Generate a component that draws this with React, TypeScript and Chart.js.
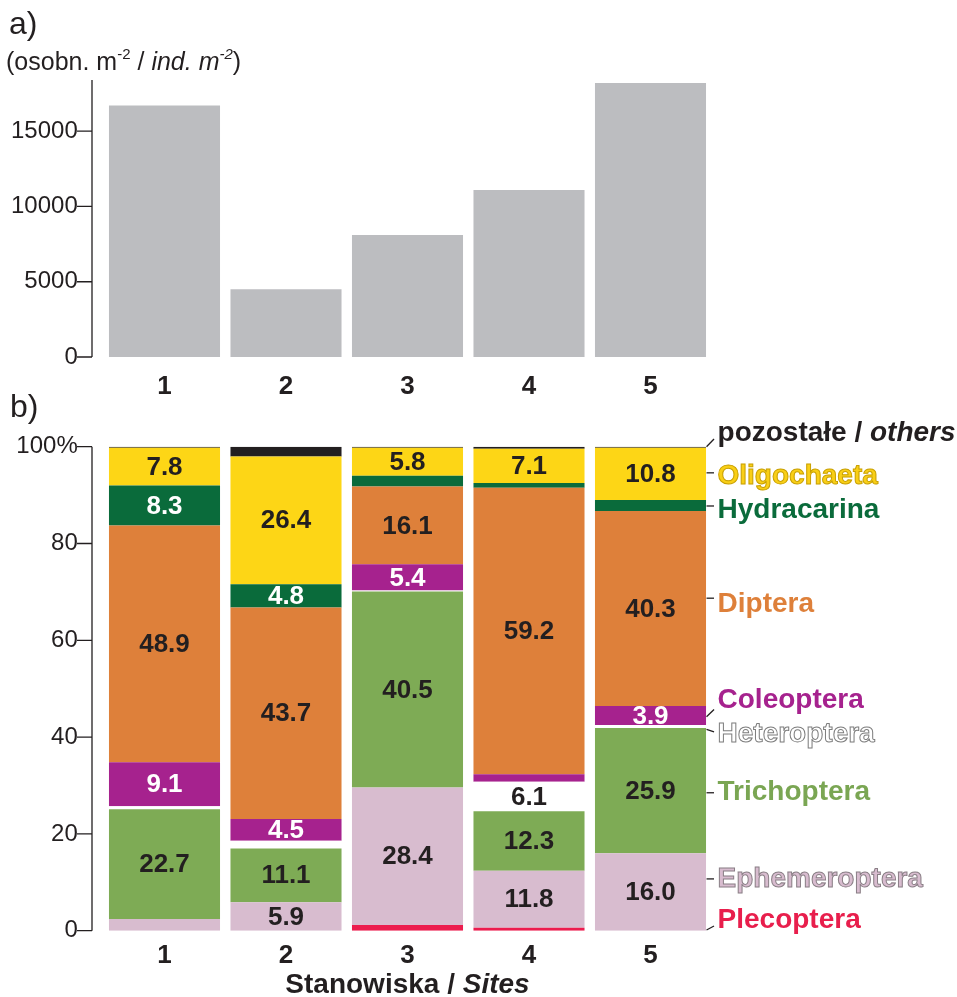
import React, { useEffect, useRef } from 'react';
import { Chart, registerables } from 'chart.js';

Chart.register(...registerables);

const FONT = '"Liberation Sans", Arial, Helvetica, sans-serif';
Chart.defaults.font.family = FONT;

// ---------- data ----------
const SITES = ['1', '2', '3', '4', '5'];
const DENSITY = [16700, 4500, 8100, 11100, 18200];
const DENSITY_TICKS = [0, 5000, 10000, 15000];
const PERCENT_TICKS = [0, 20, 40, 60, 80, 100];

const TAXA = [
  'Plecoptera',
  'Ephemeroptera',
  'Trichoptera',
  'Heteroptera',
  'Coleoptera',
  'Diptera',
  'Hydracarina',
  'Oligochaeta',
  'pozostałe / others',
];
const PLECOPTERA = [0, 0, 1.2, 0.6, 0];
const EPHEMEROPTERA = [2.4, 5.9, 28.4, 11.8, 16.0];
const TRICHOPTERA = [22.7, 11.1, 40.5, 12.3, 25.9];
const HETEROPTERA = [0.6, 1.6, 0.2, 6.1, 0.6];
const COLEOPTERA = [9.1, 4.5, 5.4, 1.5, 3.9];
const DIPTERA = [48.9, 43.7, 16.1, 59.2, 40.3];
const HYDRACARINA = [8.3, 4.8, 2.2, 1.0, 2.3];
const OLIGOCHAETA = [7.8, 26.4, 5.8, 7.1, 10.8];
const OTHERS = [0.2, 2.0, 0.2, 0.4, 0.2];
const SERIES = [PLECOPTERA, EPHEMEROPTERA, TRICHOPTERA, HETEROPTERA, COLEOPTERA, DIPTERA, HYDRACARINA, OLIGOCHAETA, OTHERS];

// ---------- styles ----------
const GREY = '#bcbdc0';
const DARK = '#231f20';
const FILLS = ['#ec1c4e', '#d8bccf', '#7eab55', '#ffffff', '#a6228e', '#de803a', '#0a6b3b', '#fdd616', '#231f20'];
const VALUE_TEXT = [DARK, DARK, DARK, DARK, '#ffffff', DARK, '#ffffff', DARK, DARK];
const NAME_FILL = ['#e81e4c', '#d8bccf', '#7aa653', '#ffffff', '#a6228e', '#de803a', '#0a6b3b', '#f9cf16', DARK];
const NAME_STROKE = [null, '#8a7f86', null, '#7d7d7d', null, null, null, '#c9a000', null];
// right-hand name layout, in % units of the y scale: [text baseline, leader start, leader end]
const NAME_LAYOUT = [
  [0.5, 0.15, 0.97],
  [9.1, 10.7, 10.7],
  [27.0, 28.5, 28.5],
  [39.05, 41.6, 41.1],
  [45.95, 44.2, 45.7],
  [65.9, 68.7, 68.7],
  [85.2, 87.75, 87.75],
  [92.3, 94.6, 94.6],
  [101.2, 100.0, 101.6],
];
const LABEL_MIN = 3.5;

// ---------- plugins ----------
const axisLine = {
  id: 'axisLine',
  afterDraw(chart: any, _args: any, opts: any) {
    const y = chart.scales.y;
    const ctx = chart.ctx;
    const x0 = chart.chartArea.left - opts.gap;
    ctx.save();
    ctx.strokeStyle = DARK;
    ctx.lineWidth = 1.3;
    ctx.beginPath();
    ctx.moveTo(x0, y.getPixelForValue(y.max));
    ctx.lineTo(x0, y.getPixelForValue(y.min));
    y.ticks.forEach((t: any) => {
      const py = y.getPixelForValue(t.value);
      ctx.moveTo(x0 - opts.len, py);
      ctx.lineTo(x0, py);
    });
    ctx.stroke();
    ctx.restore();
  },
};

const valueLabels = {
  id: 'valueLabels',
  afterDatasetsDraw(chart: any) {
    const ctx = chart.ctx;
    ctx.save();
    ctx.font = `bold 26px ${FONT}`;
    ctx.textAlign = 'center';
    ctx.textBaseline = 'middle';
    chart.data.datasets.forEach((ds: any, i: number) => {
      const meta = chart.getDatasetMeta(i);
      meta.data.forEach((el: any, j: number) => {
        const v = ds.data[j];
        if (v < LABEL_MIN) return;
        const { x, y, base } = el.getProps(['x', 'y', 'base'], true);
        ctx.fillStyle = VALUE_TEXT[i];
        ctx.fillText(v.toFixed(1), x, (y + base) / 2 + 1);
      });
    });
    ctx.restore();
  },
};

const seriesNames = {
  id: 'seriesNames',
  afterDraw(chart: any) {
    const ctx = chart.ctx;
    const ys = chart.scales.y;
    const meta = chart.getDatasetMeta(0);
    const el = meta.data[meta.data.length - 1];
    const { x, width } = el.getProps(['x', 'width'], true);
    const x1 = x + width / 2 + 0.5;
    const x2 = x1 + 7.5;
    const tx = x1 + 11;
    ctx.save();
    TAXA.forEach((name, i) => {
      const [tb, l1, l2] = NAME_LAYOUT[i];
      ctx.strokeStyle = DARK;
      ctx.lineWidth = 1.3;
      ctx.beginPath();
      ctx.moveTo(x1, ys.getPixelForValue(l1));
      ctx.lineTo(x2, ys.getPixelForValue(l2));
      ctx.stroke();
      const by = ys.getPixelForValue(tb);
      ctx.textBaseline = 'alphabetic';
      ctx.textAlign = 'left';
      const parts = name.includes(' / ') ? [name.split(' / ')[0] + ' / ', name.split(' / ')[1]] : [name];
      let cx = tx;
      parts.forEach((p, k) => {
        ctx.font = `${k === 1 ? 'italic ' : ''}bold 28px ${FONT}`;
        ctx.fillStyle = NAME_FILL[i];
        ctx.fillText(p, cx, by);
        const st = NAME_STROKE[i];
        if (st) {
          ctx.strokeStyle = st;
          ctx.lineWidth = 1;
          ctx.strokeText(p, cx, by);
        }
        cx += ctx.measureText(p).width;
      });
    });
    ctx.restore();
  },
};

const W = 957;
const PLOT_LEFT = 103.75;
const PLOT_RIGHT = 711.25;

function DensityChart() {
  const ref = useRef<HTMLCanvasElement>(null);
  useEffect(() => {
    const chart = new Chart(ref.current!, {
      type: 'bar',
      data: {
        labels: SITES,
        datasets: [
          {
            data: DENSITY,
            backgroundColor: GREY,
            borderWidth: 0,
            barPercentage: 0.914,
            categoryPercentage: 1,
          },
        ],
      },
      options: {
        responsive: false,
        animation: false,
        layout: { padding: { left: 0, right: W - PLOT_RIGHT, top: 80, bottom: 0 } },
        plugins: {
          legend: { display: false },
          tooltip: { enabled: false },
          axisLine: { gap: 11.75, len: 15 },
        } as any,
        scales: {
          x: {
            grid: { display: false },
            border: { display: false },
            ticks: { color: DARK, font: { size: 26, weight: 'bold' }, padding: 6 },
            afterFit: (s: any) => {
              s.height = 43;
            },
          },
          y: {
            min: 0,
            max: 18400,
            grid: { display: false },
            border: { display: false },
            afterBuildTicks: (s: any) => {
              s.ticks = DENSITY_TICKS.map((v) => ({ value: v }));
            },
            ticks: { color: DARK, font: { size: 24 }, padding: 18, callback: (v: any) => String(v) },
            afterFit: (s: any) => {
              s.width = PLOT_LEFT;
            },
          },
        },
      },
      plugins: [axisLine],
    });
    return () => chart.destroy();
  }, []);
  return (
    <canvas
      ref={ref}
      width={W}
      height={400}
      style={{ position: 'absolute', left: 0, top: 0, display: 'block' }}
    />
  );
}

function CompositionChart() {
  const ref = useRef<HTMLCanvasElement>(null);
  useEffect(() => {
    const chart = new Chart(ref.current!, {
      type: 'bar',
      data: {
        labels: SITES,
        datasets: TAXA.map((name, i) => ({
          label: name,
          data: SERIES[i],
          backgroundColor: FILLS[i],
          borderWidth: 0,
          barPercentage: 0.914,
          categoryPercentage: 1,
        })),
      },
      options: {
        responsive: false,
        animation: false,
        layout: { padding: { left: 0, right: W - PLOT_RIGHT, top: 46.7, bottom: 0 } },
        plugins: {
          legend: { display: false },
          tooltip: { enabled: false },
          axisLine: { gap: 11.75, len: 15 },
        } as any,
        scales: {
          x: {
            stacked: true,
            grid: { display: false },
            border: { display: false },
            ticks: { color: DARK, font: { size: 26, weight: 'bold' }, padding: 2 },
            afterFit: (s: any) => {
              s.height = 66.3;
            },
          },
          y: {
            stacked: true,
            min: 0,
            max: 100,
            grid: { display: false },
            border: { display: false },
            afterBuildTicks: (s: any) => {
              s.ticks = PERCENT_TICKS.map((v) => ({ value: v }));
            },
            ticks: {
              color: DARK,
              font: { size: 24 },
              padding: 18,
              callback: (v: any) => (v === 100 ? '100%' : String(v)),
            },
            afterFit: (s: any) => {
              s.width = PLOT_LEFT;
            },
          },
        },
      },
      plugins: [axisLine, valueLabels, seriesNames],
    });
    return () => chart.destroy();
  }, []);
  return (
    <canvas
      ref={ref}
      width={W}
      height={597}
      style={{ position: 'absolute', left: 0, top: 400, display: 'block' }}
    />
  );
}

export default function App() {
  const txt: React.CSSProperties = {
    position: 'absolute',
    fontFamily: FONT,
    color: DARK,
    lineHeight: 1,
    whiteSpace: 'nowrap',
    margin: 0,
  };
  const sup: React.CSSProperties = { fontSize: 15, verticalAlign: 'top', position: 'relative', top: -3 };
  return (
    <div style={{ position: 'absolute', left: 0, top: 0, width: W, height: 997, background: '#fff', overflow: 'hidden' }}>
      <DensityChart />
      <CompositionChart />
      <div style={{ ...txt, left: 9, top: 7, fontSize: 32 }}>a)</div>
      <div style={{ ...txt, left: 6, top: 49, fontSize: 25 }}>
        (osobn. m<sup style={sup}>-2</sup> /{' '}
        <i>
          ind. m<sup style={sup}>-2</sup>
        </i>
        )
      </div>
      <div style={{ ...txt, left: 10, top: 390, fontSize: 32 }}>b)</div>
      <div style={{ ...txt, left: 0, width: 815, textAlign: 'center', top: 970, fontSize: 28, fontWeight: 'bold' }}>
        Stanowiska / <i>Sites</i>
      </div>
    </div>
  );
}
